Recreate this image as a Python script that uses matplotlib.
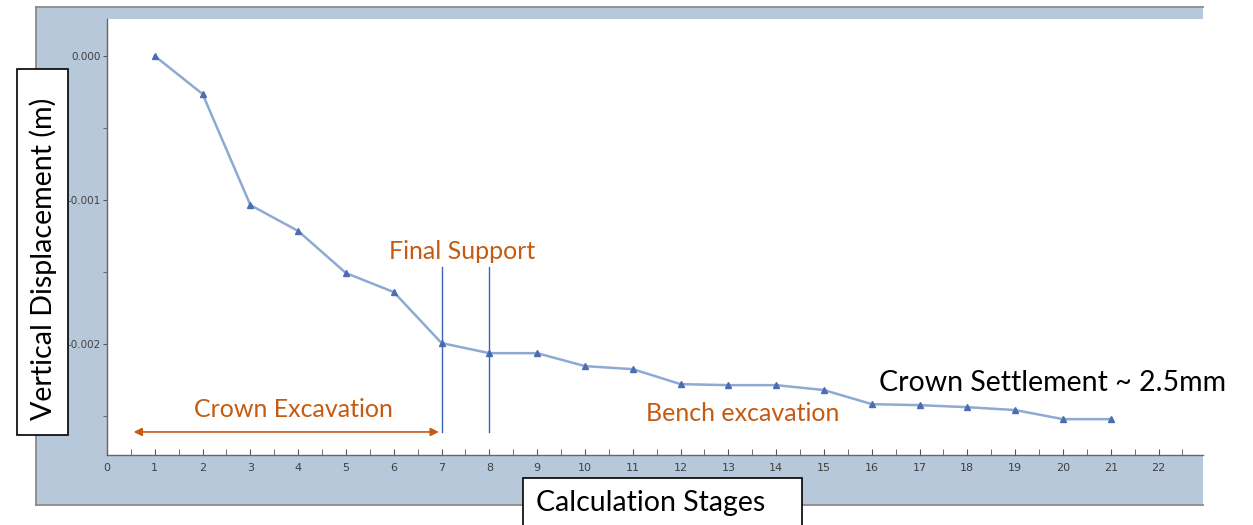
import numpy as np
import matplotlib
matplotlib.use('Agg')
import matplotlib.pyplot as plt
from matplotlib.patches import Rectangle, FancyArrowPatch
from matplotlib.lines import Line2D
from matplotlib.ticker import MultipleLocator, FormatStrFormatter

# Crown displacement per calculation stage
STAGES = np.arange(1, 22)
DISP = [0.0, -0.000264, -0.001035, -0.001215, -0.001507, -0.001639, -0.001993,
        -0.002063, -0.002063, -0.002153, -0.002174, -0.002278, -0.002285,
        -0.002285, -0.002319, -0.002417, -0.002424, -0.002438, -0.002458,
        -0.002521, -0.002521]
SUPPORT_STAGES = [7, 8]
CROWN_RANGE = [0.5, 7]

FRAME = '#b8c8db'
ORANGE = '#c55a11'
LINE = '#8eaad3'
MARK = '#4a6db3'
TICK = '#404040'
W, H = 1253, 525

def px(x, y):
    # pixel position -> figure fraction
    return x / W, 1 - y / H

fig = plt.figure(figsize=(W / 100, H / 100), dpi=100)
fig.patch.set_facecolor('white')

# grey-blue frame behind the plot area, open on the right
x0, y0 = px(36, 505)
x1, y1 = px(1203, 7)
fig.add_artist(Rectangle((x0, y0), x1 - x0, y1 - y0, transform=fig.transFigure,
                         facecolor=FRAME, edgecolor='none', zorder=-3))
edge = dict(transform=fig.transFigure, color='#8a8a8a', lw=1.3, zorder=-2)
fig.add_artist(Line2D([x0, x1], [y1, y1], **edge))
fig.add_artist(Line2D([x0, x0], [y0, y1], **edge))
fig.add_artist(Line2D([x0, x1], [y0, y0], **edge))

ax = fig.add_axes([107 / W, 1 - 455 / H, (1203 - 107) / W, (455 - 19) / H])
ax.set_facecolor('white')
ax.plot(STAGES, DISP, color=LINE, lw=1.8, zorder=3)
ax.plot(STAGES, DISP, ls='none', marker='^', ms=5, color=MARK, zorder=4)

ax.set_xlim(0, 22.93)
ax.set_ylim(-0.00277, 0.000257)
ax.xaxis.set_major_locator(MultipleLocator(1))
ax.xaxis.set_minor_locator(MultipleLocator(0.5))
ax.yaxis.set_major_locator(MultipleLocator(0.001))
ax.yaxis.set_minor_locator(MultipleLocator(0.0005))
ax.yaxis.set_major_formatter(FormatStrFormatter('%.3f'))
ax.tick_params(axis='x', which='both', direction='in', length=4, color='#555555',
               labelsize=8, labelcolor=TICK, pad=6)
ax.tick_params(axis='y', which='both', direction='out', length=3, color='#555555',
               labelsize=7.5, labelcolor=TICK, pad=1.5)
for s in ['top', 'right']:
    ax.spines[s].set_visible(False)
for s in ['left', 'bottom']:
    ax.spines[s].set_color('#666666')
    ax.spines[s].set_linewidth(1.0)

# support installation markers
y_lo, y_hi = -0.002610, -0.001465
for xs in SUPPORT_STAGES:
    ax.plot([xs, xs], [y_lo, y_hi], color='#3d66b5', lw=1.0, zorder=5)

arrow = FancyArrowPatch((CROWN_RANGE[0], y_lo), (CROWN_RANGE[1], y_lo),
                        arrowstyle='<|-|>', mutation_scale=12, color=ORANGE, lw=1.2)
ax.add_patch(arrow)

font = 'Lato'
ax.text(7.42, -0.00136, 'Final Support', color=ORANGE, fontsize=18,
        family=font, ha='center', va='center')
ax.text(3.9, -0.002455, 'Crown Excavation', color=ORANGE, fontsize=18,
        family=font, ha='center', va='center')
ax.text(13.3, -0.00248, 'Bench excavation', color=ORANGE, fontsize=18,
        family=font, ha='center', va='center')
ax.text(16.16, -0.002272, 'Crown Settlement ~ 2.5mm', color='black', fontsize=20.5,
        family=font, ha='left', va='center', clip_on=False)

# axis titles in boxed labels, kept under the tick labels
bx0, by0 = px(17, 435)
bx1, by1 = px(68, 69)
fig.add_artist(Rectangle((bx0, by0), bx1 - bx0, by1 - by0, transform=fig.transFigure,
                         facecolor='white', edgecolor='black', lw=1.2, zorder=-1))
fig.text(*px(43, 259), 'Vertical Displacement (m)', rotation=90, fontsize=20.6,
         family=font, ha='center', va='center', zorder=-1)

bx0, by0 = px(523, 530)
bx1, by1 = px(802, 478)
fig.add_artist(Rectangle((bx0, by0), bx1 - bx0, by1 - by0, transform=fig.transFigure,
                         facecolor='white', edgecolor='black', lw=1.2, zorder=6))
fig.text(*px(651, 503), 'Calculation Stages', fontsize=20.5, family=font,
         ha='center', va='center', zorder=7)

fig.savefig('out.png', dpi=100)
